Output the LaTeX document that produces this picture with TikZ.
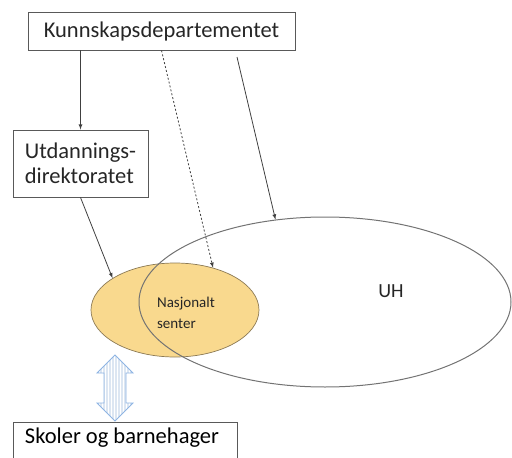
\documentclass[tikz,border=0pt]{standalone}
\usepackage{fontspec}
\setmainfont{Carlito}
\usetikzlibrary{positioning}
\usetikzlibrary{calc}
\usetikzlibrary{arrows,shapes,patterns}

\definecolor{linegray}{HTML}{595959}
\definecolor{gold}{HTML}{F9D98E}
\definecolor{goldedge}{HTML}{8C7A55}
\definecolor{paleblue}{HTML}{DCE6F2}
\definecolor{blueedge}{HTML}{8EB4E3}

\tikzset{
box/.style={draw=linegray,line width=0.9pt,inner sep=0pt,font=\fontsize{22.5}{25}\selectfont,text=black!85},
conn/.style={draw=black!75,line width=0.8pt,-latex}
}

\begin{document}
\begin{tikzpicture}[x=1pt,y=-1pt]
\clip (0,0) rectangle (512,458);
\useasboundingbox (0,0) rectangle (512,458);

\node[box,minimum width=267pt,minimum height=38pt](kd) at (161.5,31){Kunnskapsdepartementet};
\node[box,minimum width=135pt,minimum height=67pt,align=left](ud) at (80.5,163.5){Utdannings-\\direktoratet};
\node[box,minimum width=224pt,minimum height=50pt,anchor=north west](sb) at (13,422){};
\node[](sbtext) at (122,438){\fontsize{22.5}{25}\selectfont Skoler og barnehager};

\node[ellipse,fill=gold,draw=goldedge,line width=0.7pt,minimum width=168pt,minimum height=94pt,inner sep=0pt](ns) at (175,310){};
\node[ellipse,draw=black!55,line width=1pt,minimum width=372pt,minimum height=170pt,inner sep=0pt](uh) at (325,302){};
\node[align=left,font=\fontsize{15}{21}\selectfont,text=black!85](nstext) at (186,313){Nasjonalt\\senter};
\node[font=\fontsize{20}{22}\selectfont,text=black!85](uhtext) at (391,291){UH};

\coordinate (uhfrom) at (237,57);

% double arrow between senter and skoler
\draw[blueedge,line width=0.8pt,preaction={fill=paleblue},pattern=vertical lines,pattern color=white]
(115,355)--(133,373)--(126,373)--(126,403)--(133,403)--(115,421)--(97,403)--(104,403)--(104,373)--(97,373)--cycle;

\path
(kd.south -| ud.north) edge[conn] (ud.north)
(kd.south) edge[conn,dash pattern=on 2pt off 2pt] (ns.48)
(uhfrom) edge[conn] (uh.121)
(ud.south) edge[conn] (ns.153);
\end{tikzpicture}
\end{document}
